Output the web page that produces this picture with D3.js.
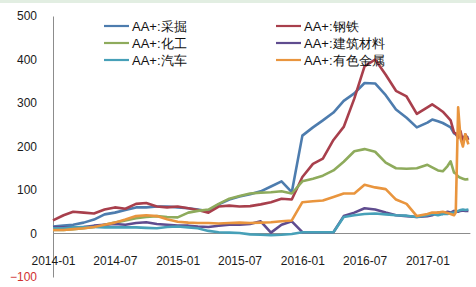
<!DOCTYPE html>
<html>
<head>
<meta charset="utf-8">
<script src="https://cdn.jsdelivr.net/npm/d3@7"></script>
<style>
    body { margin: 0; background: #fff; }
    svg { display: block; font-family: "Liberation Sans", Arial, sans-serif; }
</style>
</head>
<body>
<div id="chart"></div>
<script>
const dates = [
    "2014-01-01","2014-02-01","2014-03-01","2014-04-01","2014-05-01","2014-06-01",
    "2014-07-01","2014-08-01","2014-09-01","2014-10-01","2014-11-01","2014-12-01",
    "2015-01-01","2015-02-01","2015-03-01","2015-04-01","2015-05-01","2015-06-01",
    "2015-07-01","2015-08-01","2015-09-01","2015-10-01","2015-11-01","2015-12-01",
    "2016-01-01","2016-02-01","2016-03-01","2016-04-01","2016-05-01","2016-06-01",
    "2016-07-01","2016-08-01","2016-09-01","2016-10-01","2016-11-01","2016-12-01",
    "2017-01-01","2017-01-15","2017-02-01","2017-02-15","2017-03-01","2017-03-10",
    "2017-03-20","2017-03-25","2017-04-01","2017-04-08","2017-04-15","2017-04-22","2017-05-01"
];

const mining = [
    16, 18, 20, 25, 32, 44, 48, 54, 60, 60, 62, 62,
    60, 58, 55, 51, 67, 78, 85, 90, 97, 108, 120, 95,
    225, 244, 260, 278, 305, 322, 346, 345, 318, 285, 266, 244,
    255, 262, 258, 254, 248, 244, 230, 228, 222, 226, 218, 224, 220
];
const steel = [
    30, 42, 50, 48, 46, 55, 60, 57, 68, 70, 62, 60,
    62, 58, 54, 48, 62, 64, 62, 63, 67, 72, 80, 78,
    130, 160, 172, 215, 245, 310, 384, 400, 365, 328, 315, 275,
    290, 297, 288, 280, 268, 260, 232, 230, 220, 235, 210, 228, 215
];
const chemical = [
    8, 8, 10, 12, 15, 20, 25, 30, 35, 38, 40, 38,
    37, 48, 52, 55, 68, 80, 86, 92, 94, 95, 97, 92,
    120, 126, 133, 145, 165, 189, 194, 188, 163, 150, 149, 150,
    158, 152, 145, 143, 155, 166, 140, 138, 131, 128, 126, 124, 125
];
const buildMat = [
    14, 14, 14, 15, 18, 20, 22, 20, 24, 26, 22, 20,
    18, 18, 16, 15, 18, 20, 20, 22, 28, 2, 20, 28,
    3, 3, 3, 3, 40, 48, 58, 55, 48, 42, 40, 38,
    40, 42, 48, 45, 50, 48, 52, 50, 50, 52, 53, 52, 52
];
const auto = [
    12, 12, 14, 15, 15, 14, 14, 14, 14, 13, 12, 15,
    16, 14, 12, 6, 3, 2, 1, -2, -3, -4, -3, -1,
    3, 3, 3, 3, 38, 42, 45, 46, 44, 42, 41, 38,
    42, 45, 42, 45, 45, 47, 48, 50, 52, 54, 55, 54, 55
];
const nonferrous = [
    8, 8, 10, 12, 15, 20, 25, 32, 40, 42, 40, 33,
    27, 25, 24, 24, 23, 24, 25, 24, 25, 26, 28, 30,
    72, 74, 76, 84, 92, 92, 112, 106, 102, 78, 68, 40,
    45, 48, 48, 50, 47, 45, 42, 48, 290, 218, 200, 228, 205
];

const seriesNames = ["AA+:采掘", "AA+:钢铁", "AA+:化工", "AA+:建筑材料", "AA+:汽车", "AA+:有色金属"];
const seriesValues = [mining, steel, chemical, buildMat, auto, nonferrous];
const seriesColors = ["#4d7cae", "#a83f4c", "#8eab5c", "#5f4c8f", "#47a0b8", "#e9953e"];

const xTickLabels = ["2014-01", "2014-07", "2015-01", "2015-07", "2016-01", "2016-07", "2017-01"];
const yTickValues = [-100, 0, 100, 200, 300, 400, 500];

function drawChart() {
    const width = 476;
    const height = 287;

    const parseDate = d3.timeParse("%Y-%m-%d");
    const parseMonth = d3.timeParse("%Y-%m");
    const dateObjs = dates.map(parseDate);

    const svg = d3.select("#chart")
        .append("svg")
        .attr("width", width)
        .attr("height", height);

    // light strip on the top edge of the picture
    svg.append("rect")
        .attr("x", 0).attr("y", 0)
        .attr("width", width).attr("height", 3)
        .attr("fill", "#e2eee2");

    const x = d3.scaleTime()
        .domain([parseDate("2014-01-01"), parseDate("2017-01-01")])
        .range([53, 427.4]);

    const y = d3.scaleLinear()
        .domain([-100, 500])
        .range([277, 16]);

    // y axis
    const yAxis = svg.append("g")
        .attr("transform", "translate(53,0)")
        .call(d3.axisLeft(y).tickValues(yTickValues).tickSize(0).tickSizeOuter(0).tickPadding(16));
    yAxis.select(".domain").attr("stroke", "#8c8c8c");
    yAxis.selectAll("text")
        .attr("font-size", "12px")
        .attr("font-family", "Liberation Sans, Arial, sans-serif")
        .attr("fill", d => d < 0 ? "#d03030" : "#1a1a1a");

    // zero line
    svg.append("line")
        .attr("x1", x(dateObjs[0]))
        .attr("x2", x(dateObjs[dateObjs.length - 1]) + 2)
        .attr("y1", y(0))
        .attr("y2", y(0))
        .attr("stroke", "#8c8c8c")
        .attr("stroke-width", 1);

    // x axis labels
    const xAxis = svg.append("g")
        .attr("transform", `translate(0,${y(0)})`)
        .call(d3.axisBottom(x)
            .tickValues(xTickLabels.map(parseMonth))
            .tickFormat(d3.timeFormat("%Y-%m"))
            .tickSize(0)
            .tickPadding(23));
    xAxis.select(".domain").remove();
    xAxis.selectAll("text")
        .attr("font-size", "12px")
        .attr("font-family", "Liberation Sans, Arial, sans-serif")
        .attr("fill", "#1a1a1a");

    // lines
    const line = d3.line()
        .x((d, i) => x(dateObjs[i]))
        .y(d => y(d));

    svg.append("g")
        .selectAll("path")
        .data(seriesValues)
        .join("path")
        .attr("d", d => line(d))
        .attr("fill", "none")
        .attr("stroke", (d, i) => seriesColors[i])
        .attr("stroke-width", 2.6)
        .attr("stroke-linejoin", "round");

    // legend, two columns
    const legend = svg.append("g")
        .selectAll("g")
        .data(seriesNames)
        .join("g")
        .attr("transform", (d, i) => `translate(${i % 2 === 0 ? 104 : 276},${26 + Math.floor(i / 2) * 17})`);

    legend.append("line")
        .attr("x1", 0).attr("x2", 25)
        .attr("y1", 0).attr("y2", 0)
        .attr("stroke", (d, i) => seriesColors[i])
        .attr("stroke-width", 2.2);

    legend.append("text")
        .attr("x", 28)
        .attr("dy", "0.36em")
        .attr("font-size", "13px")
        .attr("fill", "#111")
        .text(d => d);
}

drawChart();
</script>
</body>
</html>
